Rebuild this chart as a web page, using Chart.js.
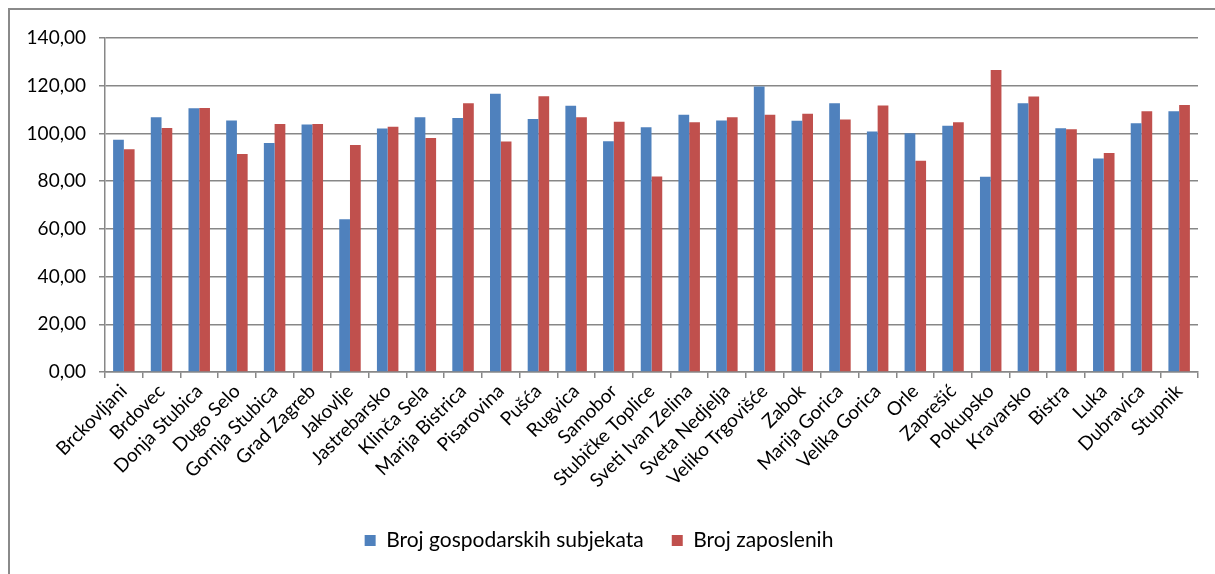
<!DOCTYPE html>
<html>
<head>
<meta charset="utf-8">
<script src="https://cdn.jsdelivr.net/npm/chart.js@4"></script>
<style>
  body { margin: 0; background: #fff; }
  #wrap { position: relative; width: 1215px; height: 574px; }
  #frame { position: absolute; left: 8px; top: 8px; right: 0; bottom: 0;
           border-left: 2px solid #8a8a8a; border-top: 2px solid #8a8a8a; }
  #myChart { position: absolute; left: 0; top: 0; }
</style>
</head>
<body>
<div id="wrap">
  <div id="frame"></div>
  <canvas id="myChart" width="1215" height="574"></canvas>
</div>
<script>
const opcine = ['Brckovljani', 'Brdovec', 'Donja Stubica', 'Dugo Selo', 'Gornja Stubica', 'Grad Zagreb',
    'Jakovlje', 'Jastrebarsko', 'Klinča Sela', 'Marija Bistrica', 'Pisarovina', 'Pušća', 'Rugvica',
    'Samobor', 'Stubičke Toplice', 'Sveti Ivan Zelina', 'Sveta Nedjelja', 'Veliko Trgovišće', 'Zabok',
    'Marija Gorica', 'Velika Gorica', 'Orle', 'Zaprešić', 'Pokupsko', 'Kravarsko', 'Bistra', 'Luka',
    'Dubravica', 'Stupnik'];

const subjekti = [97.3, 106.8, 110.6, 105.4, 96.0, 103.7, 64.0, 102.1, 106.8, 106.5, 116.6, 106.1, 111.6,
    96.7, 102.6, 107.8, 105.4, 119.7, 105.3, 112.6, 100.8, 100.1, 103.2, 81.8, 112.6, 102.2, 89.5,
    104.3, 109.3];

const zaposleni = [93.4, 102.3, 110.7, 91.4, 104.0, 103.9, 95.2, 102.8, 98.1, 112.6, 96.6, 115.6, 106.8,
    104.9, 81.9, 104.7, 106.8, 107.8, 108.2, 105.8, 111.7, 88.5, 104.7, 126.6, 115.5, 101.8, 91.8,
    109.3, 111.9];

const yTicks = [0, 20, 40, 60, 80, 100, 120, 140];

const font = 'Lato, "Open Sans", sans-serif';
const gridColor = '#878787';

const ctx = document.getElementById('myChart');

new Chart(ctx, {
    type: 'bar',
    data: {
        labels: opcine,
        datasets: [{
            label: 'Broj gospodarskih subjekata',
            data: subjekti,
            backgroundColor: '#4F81BD'
        }, {
            label: 'Broj zaposlenih',
            data: zaposleni,
            backgroundColor: '#C0504D'
        }]
    },
    options: {
        responsive: false,
        animation: false,
        datasets: {
            bar: { barPercentage: 1, categoryPercentage: 0.57 }
        },
        layout: { padding: { top: 38, right: 17, left: 0, bottom: 13 } },
        plugins: {
            tooltip: { enabled: false },
            legend: {
                position: 'bottom',
                labels: {
                    boxWidth: 11,
                    boxHeight: 11,
                    padding: 28,
                    color: '#000',
                    font: { family: font, size: 21 }
                }
            }
        },
        scales: {
            x: {
                grid: {
                    drawOnChartArea: false,
                    offset: true,
                    color: gridColor,
                    lineWidth: 1.5,
                    tickLength: 6
                },
                border: { color: gridColor, width: 1.5 },
                ticks: {
                    autoSkip: false,
                    maxRotation: 45,
                    minRotation: 45,
                    padding: 2,
                    color: '#000',
                    font: { family: font, size: 19 }
                },
                afterFit: (scale) => { scale.height = 130; }
            },
            y: {
                min: 0,
                max: 140,
                afterBuildTicks: (scale) => { scale.ticks = yTicks.map(v => ({ value: v })); },
                grid: { color: gridColor, lineWidth: 1.5, tickLength: 6 },
                border: { color: gridColor, width: 1.5 },
                ticks: {
                    padding: 13,
                    color: '#000',
                    font: { family: font, size: 19 },
                    callback: (v) => v.toFixed(2).replace('.', ',')
                },
                afterFit: (scale) => { scale.width = 105; }
            }
        }
    }
});
</script>
</body>
</html>
